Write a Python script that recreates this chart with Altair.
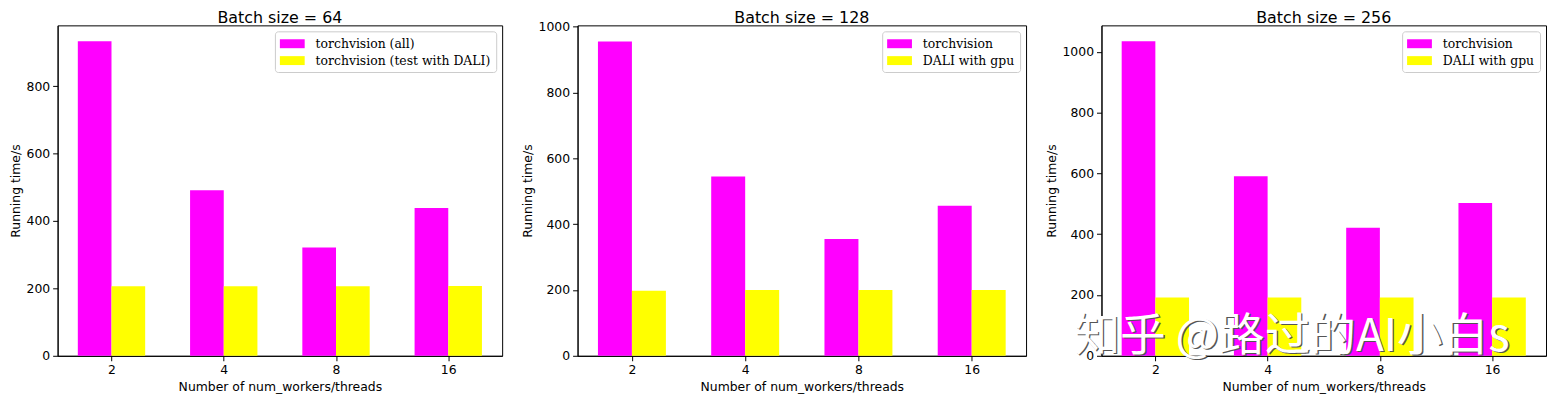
import altair as alt
import pandas as pd

workers = ["2", "4", "8", "16"]
titles = ["Batch size = 64", "Batch size = 128", "Batch size = 256"]
series_64 = ["torchvision (all)", "torchvision (test with DALI)"]
series_other = ["torchvision", "DALI with gpu"]
torch_64 = [933, 491, 321, 438]
dali_64 = [206, 206, 206, 207]
torch_128 = [955, 545, 355, 456]
dali_128 = [198, 200, 200, 200]
torch_256 = [1035, 591, 421, 503]
dali_256 = [192, 192, 192, 192]
y_max = [980, 1004, 1087]
y_ticks = [[0, 200, 400, 600, 800],
           [0, 200, 400, 600, 800, 1000],
           [0, 200, 400, 600, 800, 1000]]
watermark = "知乎 @路过的AI小白s"
colors = ["#ff00ff", "#ffff00"]
widths = [448, 452, 448]
PLOT_H = 333
BAR_W = 0.3
RECT = "M-1,-0.6L2.333,-0.6L2.333,0.6L-1,0.6Z"
label_expr = "[" + ",".join("'%s'" % w for w in workers) + "][datum.value]"


def panel(title, names, first, second, ymax, ticks, width, mark=False):
    df = pd.DataFrame({
        "idx": list(range(len(workers))) * 2,
        "series": [names[0]] * 4 + [names[1]] * 4,
        "order": [0] * 4 + [1] * 4,
        "time": first + second,
    })
    bars = alt.Chart(df).transform_calculate(
        x0="datum.idx + (datum.order - 1) * %f" % BAR_W,
        x1="datum.idx + datum.order * %f" % BAR_W,
    ).mark_bar(strokeWidth=0).encode(
        x=alt.X("x0:Q", scale=alt.Scale(domain=[-0.48, 3.48], nice=False, zero=False),
                axis=alt.Axis(title="Number of num_workers/threads", values=[0, 1, 2, 3],
                              labelExpr=label_expr, labelAngle=0)),
        x2="x1:Q",
        y=alt.Y("time:Q", scale=alt.Scale(domain=[0, ymax], nice=False, zero=True),
                axis=alt.Axis(values=ticks, title="Running time/s", format="d")),
        y2=alt.datum(0),
        color=alt.Color("series:N", sort=names,
                        scale=alt.Scale(domain=names, range=colors),
                        legend=alt.Legend(title=None, orient="top-right", offset=6,
                                          fillColor="white", strokeColor="#cccccc",
                                          cornerRadius=3, padding=5,
                                          labelFont="DejaVu Serif", labelFontSize=12.5,
                                          labelColor="black", labelOffset=21,
                                          labelLimit=400,
                                          symbolType=RECT, symbolSize=225,
                                          symbolStrokeWidth=0, symbolOpacity=1,
                                          rowPadding=3)),
    )
    tdf = pd.DataFrame({"t": [title]})
    head = alt.Chart(tdf).mark_text(
        font="DejaVu Sans", fontSize=16, color="black",
        align="center", baseline="alphabetic"
    ).encode(text="t:N", x=alt.value(width / 2), y=alt.value(-2))
    layers = [bars, head]
    if mark:
        wdf = pd.DataFrame({"t": [watermark]})
        shadow = alt.Chart(wdf).mark_text(
            font="Noto Sans CJK SC", fontSize=46, color="#555555",
            align="center", baseline="alphabetic", dx=1.5, dy=1.5
        ).encode(text="t:N", x=alt.value(192), y=alt.value(328))
        front = alt.Chart(wdf).mark_text(
            font="Noto Sans CJK SC", fontSize=46, color="white",
            align="center", baseline="alphabetic"
        ).encode(text="t:N", x=alt.value(192), y=alt.value(328))
        layers += [shadow, front]
    return alt.layer(*layers).properties(width=width, height=PLOT_H)


p1 = panel(titles[0], series_64, torch_64, dali_64, y_max[0], y_ticks[0], widths[0])
p2 = panel(titles[1], series_other, torch_128, dali_128, y_max[1], y_ticks[1], widths[1])
p3 = panel(titles[2], series_other, torch_256, dali_256, y_max[2], y_ticks[2], widths[2], mark=True)

chart = alt.hconcat(p1, p2, p3, spacing=17).resolve_scale(
    color="independent", x="independent", y="independent"
).resolve_legend(color="independent").configure_view(
    stroke="black", strokeWidth=1
).configure_axis(
    domainColor="black", tickColor="black", tickSize=5, domainWidth=1, tickWidth=1,
    labelFont="DejaVu Sans", titleFont="DejaVu Sans",
    labelFontSize=12.5, titleFontSize=12.5, titleFontWeight="normal",
    labelColor="black", titleColor="black", grid=False, labelPadding=3,
).configure_axisX(titlePadding=4).configure_axisY(titlePadding=4).properties(padding=0)

chart.save("out.html", embed_options={"renderer": "svg", "actions": False})
